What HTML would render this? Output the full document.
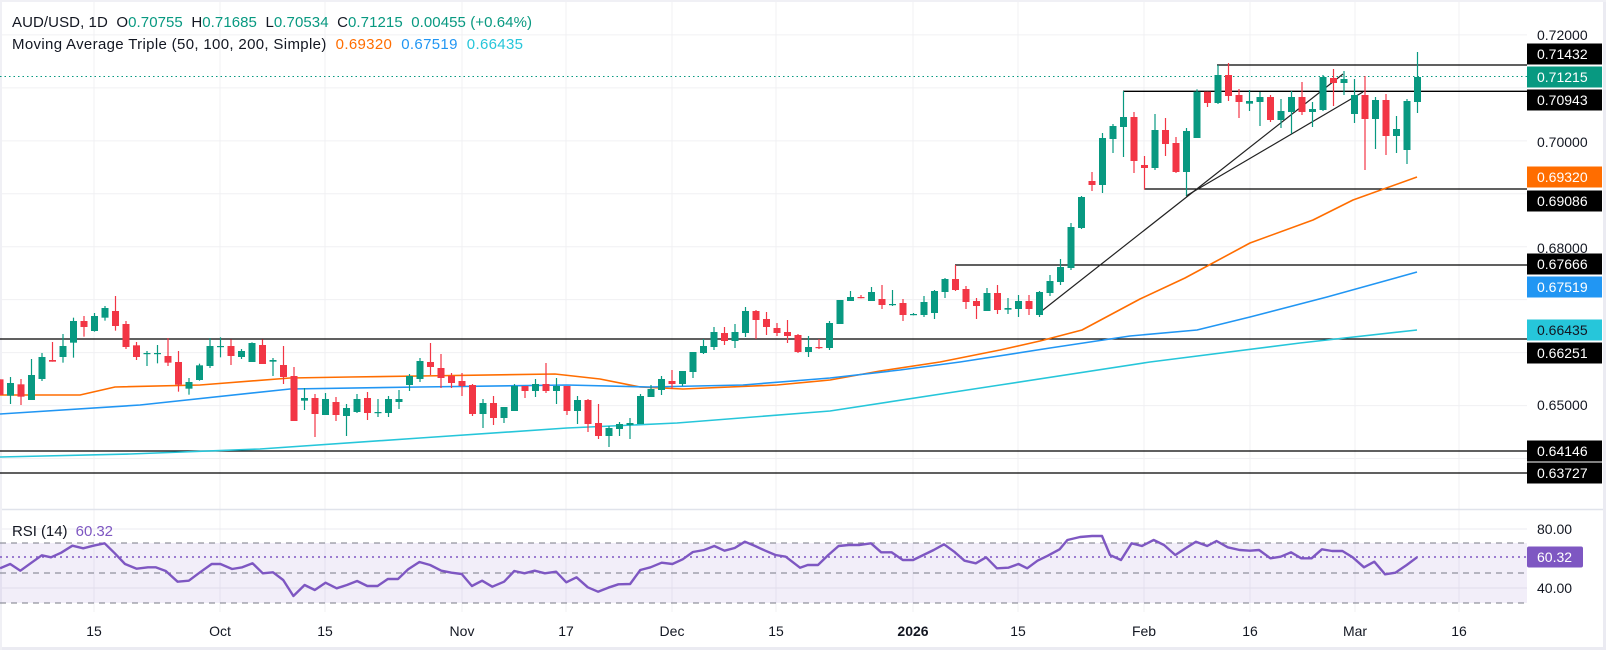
<!DOCTYPE html>
<html><head><meta charset="utf-8">
<style>
html,body{margin:0;padding:0;background:#fff;}
svg{display:block;font-family:"Liberation Sans",sans-serif;}
.leg{white-space:pre;}
</style></head>
<body>
<svg id="c" width="1606" height="650" xmlns="http://www.w3.org/2000/svg">
<rect x="0" y="0" width="1606" height="650" fill="#fff"/>
<g id="grid"></g>
<g id="rsi"></g>
<g id="lvl"></g>
<g id="ma"></g>
<g id="cnd"></g>
<g id="lab"></g>
<text class="leg" x="12" y="27" font-size="15" fill="#131722" textLength="520" lengthAdjust="spacing">AUD/USD, 1D  O<tspan fill="#089981">0.70755</tspan>  H<tspan fill="#089981">0.71685</tspan>  L<tspan fill="#089981">0.70534</tspan>  C<tspan fill="#089981">0.71215</tspan>  <tspan fill="#089981">0.00455 (+0.64%)</tspan></text>
<text class="leg" x="12" y="49" font-size="15" fill="#131722" textLength="511" lengthAdjust="spacing">Moving Average Triple (50, 100, 200, Simple)  <tspan fill="#ff6d00">0.69320</tspan>  <tspan fill="#2196f3">0.67519</tspan>  <tspan fill="#26c6da">0.66435</tspan></text>
<text class="leg" x="12" y="536" font-size="15" fill="#131722" textLength="101" lengthAdjust="spacing">RSI (14)  <tspan fill="#7e57c2">60.32</tspan></text>
</svg>
<script>
var NS="http://www.w3.org/2000/svg";
function el(p,t,a,txt){var e=document.createElementNS(NS,t);for(var k in a)e.setAttribute(k,a[k]);if(txt!==undefined)e.textContent=txt;document.getElementById(p).appendChild(e);return e;}
function Y(p){return 65+(0.71432-p)*5295;}
var vx=[94,220,325,462,566,672,776,913,1018,1144,1250,1355,1459];
vx.forEach(function(x){el("grid","line",{x1:x,y1:0,x2:x,y2:612,stroke:"#f0f0f3","stroke-width":1});});
for(var p=0.72;p>0.635;p-=0.01){var y=Y(p);el("grid","line",{x1:0,y1:y,x2:1527,y2:y,stroke:"#f0f0f3","stroke-width":1});}
[529,588].forEach(function(y){el("grid","line",{x1:0,y1:y,x2:1527,y2:y,stroke:"#ebebf0"});});
el("grid","line",{x1:0,y1:509.5,x2:1604,y2:509.5,stroke:"#e0e3eb","stroke-width":1.5});
el("grid","rect",{x:1603,y:0,width:3,height:650,fill:"#ebebf2"});
el("grid","rect",{x:0,y:647,width:1606,height:3,fill:"#ebebf2"});
el("grid","rect",{x:0,y:0,width:1606,height:2,fill:"#f0f0f5"});
el("grid","rect",{x:0,y:0,width:2,height:650,fill:"#f0f0f5"});
el("rsi","rect",{x:0,y:543,width:1527,height:60,fill:"rgba(126,87,194,0.1)"});
[543,573,603].forEach(function(y){el("rsi","line",{x1:0,y1:y,x2:1527,y2:y,stroke:"#787b86","stroke-dasharray":"6,5","stroke-width":1});});
el("rsi","line",{x1:0,y1:557,x2:1527,y2:557,stroke:"#7e57c2","stroke-dasharray":"2,4","stroke-width":1.5});
var r3=[[0,85],[20,72],[40,92],[60,70],[82,46],[100,52],[120,38],[142,17],[163,25],[183,17],[205,10],[225,40],[245,72],[268,86],[290,82],[305,82],[325,93],[348,125],[370,122],[392,97],[415,72],[432,72],[455,87],[475,82],[495,70],[515,100],[535,97],[555,120],[575,168],[597,135],[617,150],[638,128],[660,145],[680,135],[700,123],[720,138],[740,138],[760,117],[780,117],[800,88],[822,66],[843,75],[865,92],[885,98],[905,102],[925,138],[945,122],[965,140],[988,125],[1008,93],[1028,100],[1048,92],[1068,100],[1090,95],[1110,127],[1130,112],[1152,142],[1172,155],[1192,143],[1212,133],[1235,132],[1255,90],[1275,82],[1297,68],[1318,72],[1338,58],[1358,36],[1380,30],[1400,18],[1420,32],[1440,24],[1460,5],[1480,18],[1500,32],[1520,45],[1540,50],[1568,83]];
var r4a=[[15,75],[35,75],[55,45],[75,18],[95,15],[115,15],[138,10],[158,37],[178,37],[200,60],[220,60],[240,45],[260,30],[280,13],[300,35],[320,62],[342,70],[362,52],[383,85],[405,83],[425,72],[442,85],[462,62],[482,47],[505,28],[520,0]];
var r4b=[[645,10],[665,18],[688,0],[708,15],[730,45],[750,25],[770,5],[792,18],[810,3],[832,22],[855,30],[875,32],[893,30],[915,55],[935,50],[955,37],[975,55],[995,55],[1015,28],[1035,33],[1055,33],[1075,52],[1097,82],[1117,65],[1138,103],[1158,98],[1180,75],[1200,52]];
var pts=[];
r3.forEach(function(a){pts.push([a[0]/1.96,540+a[1]/3]);});
r4a.forEach(function(a){pts.push([800+a[0]/1.945,540+a[1]/3]);});
pts.push([1080,537],[1092,536],[1102,536],[1110,555],[1121,560]);
r4b.forEach(function(a){pts.push([800+a[0]/1.945,540+a[1]/3]);});
el("rsi","polyline",{points:pts.map(function(a){return a[0].toFixed(1)+","+a[1].toFixed(1);}).join(" "),fill:"none",stroke:"#7e57c2","stroke-width":2.4,"stroke-linejoin":"round"});
function hl(x1,y,x2,c,w,d){var a={x1:x1,y1:y,x2:x2,y2:y,stroke:c,"stroke-width":w||1.3};if(d)a["stroke-dasharray"]=d;el("lvl","line",a);}
hl(1217,65,1527,"#000");
hl(1123,91.3,1527,"#000");
hl(1144,189,1527,"#000");
hl(955,265,1527,"#000");
hl(0,339,1527,"#000");
hl(0,451,1527,"#000");
hl(0,473,1527,"#000");
hl(0,76.5,1527,"#089981",1,"1.5,3");
el("lvl","line",{x1:1041.7,y1:311,x2:1343,y2:74,stroke:"#222","stroke-width":1.2});
el("lvl","line",{x1:1186,y1:196,x2:1363,y2:92,stroke:"#222","stroke-width":1.2});
function pl(a,c){el("ma","polyline",{points:a.map(function(q){return q.join(",");}).join(" "),fill:"none",stroke:c,"stroke-width":1.6,"stroke-linejoin":"round"});}
pl([[0,395],[80,395],[115,387],[200,385],[290,378],[350,377],[420,376],[555,374],[600,379],[640,387],[683,389],[777,385],[830,380],[880,371],[940,362],[1000,350],[1040,341],[1082,330],[1140,299],[1185,278],[1250,243],[1313,220],[1353,200],[1417,177]],"#ff6d00");
pl([[0,414],[140,405],[290,389],[420,387],[567,385],[650,387],[743,385],[830,378],[900,370],[960,362],[1050,348],[1130,336],[1197,330],[1250,317],[1327,297],[1417,272]],"#2196f3");
pl([[0,457],[130,454],[260,449],[420,438],[567,428],[677,423],[830,411],[1000,385],[1150,362],[1300,343],[1417,330]],"#26c6da");
var A=[[0,388,435,388,435,0],[1,399,437,381,462,1],[2,403,440,387,465,0],[3,375,450,327,450,1],[4,321,387,309,393,1],[5,330,335,276,335,0],[6,288,321,252,338,1],[7,213,278,203,323,1],[8,213,231,198,260,0],[9,198,243,189,245,1],[10,174,203,168,212,1],[11,183,228,138,242,0],[12,222,291,213,297,0],[13,286,321,276,330,0],[14,309,311,303,348,1],[15,309,311,285,340,1],[16,318,338,264,348,0],[17,336,404,303,425,0],[18,396,416,384,434,1],[19,346,390,341,392,1],[20,288,348,264,354,1],[21,288,290,262,322,1],[22,288,318,268,345,0],[23,303,321,297,327,1],[24,279,336,277,336,1],[25,285,342,268,342,0],[26,330,335,324,378,1],[27,345,381,288,402,0],[28,378,513,351,513,0],[29,444,452,414,480,1],[30,444,492,432,561,0],[31,447,495,429,495,1],[32,456,495,441,513,0],[33,474,498,462,558,1],[34,447,486,432,489,1],[35,444,489,426,510,0],[36,486,488,447,501,1],[37,447,489,438,501,1],[38,447,456,420,477,1],[39,378,405,372,423,1],
[40,333,387,324,396,1],[41,336,351,279,375,0],[42,354,384,312,414,0],[43,378,399,369,414,0],[44,393,408,369,438,0],[45,405,492,402,498,0],[46,459,492,447,534,1],[47,459,504,438,525,0],[48,471,504,471,519,1],[49,408,483,402,483,1],[50,408,423,408,444,0],[51,402,423,387,441,1],[52,402,423,339,429,0],[53,408,423,384,462,1],[54,408,483,408,495,0],[55,450,483,438,522,1],[56,450,522,447,546,0],[57,519,558,462,567,0],[58,534,558,528,591,1],[59,522,537,516,558,1],[60,519,525,504,567,1],[61,438,522,432,522,1],[62,417,441,405,441,1],[63,387,420,378,435,1],[64,393,402,360,417,0],[65,363,402,363,408,1],[66,306,366,306,384,1],[67,288,309,267,312,1],[68,246,291,231,300,1],[69,249,273,231,285,0],[70,246,273,222,294,1],[71,183,249,171,261,1],[72,183,210,180,267,0],[73,207,231,186,255,0],[74,234,249,219,258,0],[75,246,258,210,279,0],[76,255,306,252,309,0],[77,291,306,258,321,1],[78,291,293,267,297,0],[79,219,294,213,300,1]];
var B=[[80,780,852,780,852,1],[81,771,783,753,783,1],[82,771,773,765,775,0],[83,756,783,741,783,1],[84,777,795,735,807,0],[85,792,795,750,798,1],[86,789,825,777,843,0],[87,822,824,819,826,1],[88,786,825,768,831,1],[89,753,819,750,837,1],[90,717,756,714,774,1],[91,717,750,675,753,0],[92,747,786,738,807,0],[93,783,798,774,837,0],[94,759,813,744,813,1],[95,759,810,735,822,0],[96,804,809,774,822,1],[97,783,807,765,831,1],[98,783,807,765,825,0],[99,756,825,753,831,1],[100,723,759,705,768,1],[101,681,726,657,735,1],[102,561,684,549,690,1],[103,471,564,468,567,1],[104,423,435,396,453,0],[105,294,435,279,459,1],[106,258,297,252,339,1],[107,231,261,153,351,1],[108,231,363,216,399,0],[109,375,384,348,449,0],
[110,270,384,222,390,1],[111,270,312,234,348,0],[112,309,396,291,399,0],[113,273,396,264,467,1],[114,155,294,148,294,1],[115,155,189,155,201,0],[116,105,189,75,192,1],[117,105,168,69,183,0],[118,165,186,147,234,0],[119,183,191,150,213,1],[120,171,186,156,258,1],[121,171,240,165,246,0],[122,213,240,177,264,1],[123,171,216,153,281,1],[124,171,216,126,225,0],[125,207,216,186,261,1],[126,111,210,105,213,1],[127,114,129,87,198,0],[128,117,129,93,165,1],[129,165,222,117,249,1],[130,165,237,108,390,0],[131,180,237,171,327,1],[132,180,288,162,345,0],[133,267,288,228,339,1],[134,183,330,177,372,1],[135,111,186,36,219,1]];
function draw(c,base){var x=10.5*c[0];var col=c[5]?"#089981":"#f23645";
var wt=base+c[3]/3,wb=base+c[4]/3,bt=base+c[1]/3,bb=base+c[2]/3;if(bb-bt<1.2)bb=bt+1.2;
el("cnd","line",{x1:x,y1:wt,x2:x,y2:wb,stroke:col,"stroke-width":1.2});
el("cnd","rect",{x:x-3.5,y:bt,width:7,height:bb-bt,fill:col});}
A.forEach(function(c){draw(c,250);});
B.forEach(function(c){draw(c,40);});
function tx(x,y,s,o){var a={x:x,y:y,"font-size":14,fill:"#131722"};for(var k in o)a[k]=o[k];el("lab","text",a,s);}
[[35,"0.72000"],[142,"0.70000"],[248,"0.68000"],[290,"0.67000"],[405,"0.65000"],[529,"80.00"],[588,"40.00"]].forEach(function(a){tx(1537,a[0]+5,a[1]);});
function box(y,s,bg,fg,w){el("lab","rect",{x:1527,y:y-10.5,width:w||75,height:21,fill:bg});tx(1537,y+5,s,{fill:fg});}
box(54,"0.71432","#000","#fff");box(77,"0.71215","#089981","#fff");box(100,"0.70943","#000","#fff");
box(177,"0.69320","#ff6d00","#fff");box(201,"0.69086","#000","#fff");
box(264,"0.67666","#000","#fff");box(287,"0.67519","#2196f3","#fff");
box(330,"0.66435","#26c6da","#131722");box(353,"0.66251","#000","#fff");
box(451,"0.64146","#000","#fff");box(473,"0.63727","#000","#fff");
el("lab","rect",{x:1527,y:546.5,width:56,height:21,fill:"#7e57c2",rx:2});tx(1537,562,"60.32",{fill:"#fff"});
var xl=[[94,"15"],[220,"Oct"],[325,"15"],[462,"Nov"],[566,"17"],[672,"Dec"],[776,"15"],[913,"2026"],[1018,"15"],[1144,"Feb"],[1250,"16"],[1355,"Mar"],[1459,"16"]];
xl.forEach(function(a){var o={"text-anchor":"middle"};if(a[1]=="2026")o["font-weight"]="bold";tx(a[0],636,a[1],o);});
</script>
</body></html>
